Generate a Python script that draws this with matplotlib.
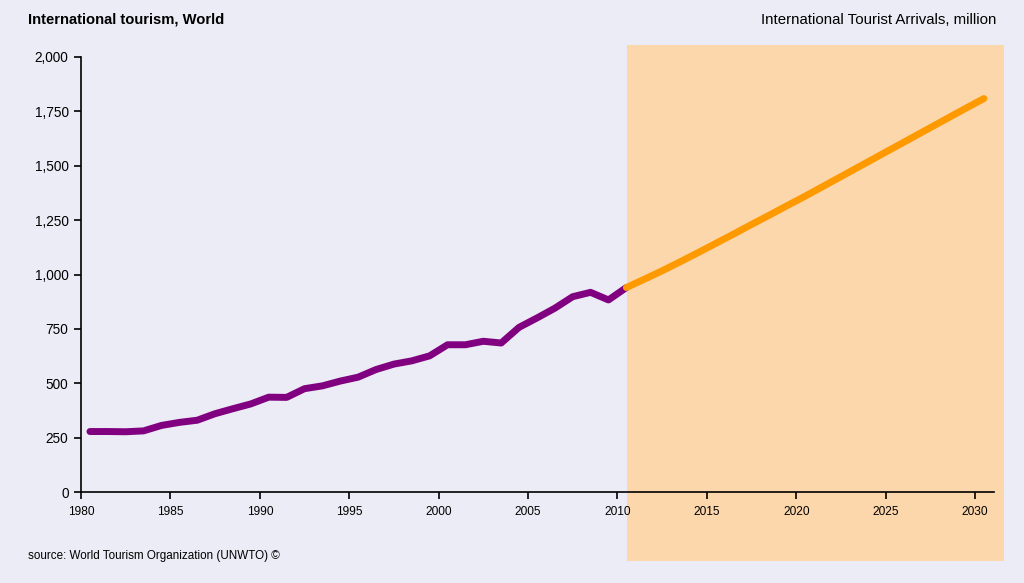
import matplotlib
matplotlib.use('Agg')
import matplotlib.pyplot as plt
from matplotlib.patches import Rectangle
from matplotlib.ticker import FuncFormatter

# historical arrivals (million)
years_hist = list(range(1980, 2011))
arrivals_hist = [278, 278, 277, 281, 306, 320, 330, 360, 383, 405,
                 436, 435, 475, 488, 510, 528, 563, 588, 603, 626,
                 677, 677, 693, 685, 757, 800, 845, 898, 918, 883, 940]

# forecast 2010-2030
years_fc = list(range(2010, 2031))
arrivals_fc = [940, 978, 1017, 1058, 1100, 1143, 1186, 1230, 1273, 1317,
               1360, 1405, 1450, 1495, 1540, 1585, 1630, 1675, 1720, 1765, 1809]

xticks = list(range(1980, 2031, 5))
yticks = list(range(0, 2001, 250))

bg = '#ECECF6'
peach = '#FDD7AC'
purple = '#800080'
orange = '#FF9900'

plt.rcParams['font.family'] = ['Liberation Sans', 'DejaVu Sans']

fig = plt.figure(figsize=(10.24, 5.83), dpi=100, facecolor=bg)
W, H = 1024, 583

# forecast area, drawn behind the axes
fig.add_artist(Rectangle((627 / W, 1 - 561 / H), (1004 - 627) / W, (561 - 45) / H,
                         transform=fig.transFigure, facecolor=peach, edgecolor='none', zorder=-5))

ax = fig.add_axes([81 / W, 1 - 492 / H, 913 / W, 435 / H])
ax.patch.set_alpha(0)

# points sit in the middle of each year (category axis)
ax.plot([y + 0.5 for y in years_hist], arrivals_hist, color=purple, lw=5,
        solid_capstyle='round', solid_joinstyle='round', zorder=3)
ax.plot([y + 0.5 for y in years_fc], arrivals_fc, color=orange, lw=5,
        solid_capstyle='round', solid_joinstyle='round', zorder=3)

ax.set_xlim(1980, 1980 + 913 / 17.88)
ax.set_ylim(0, 2000)
ax.set_xticks(xticks)
ax.set_yticks(yticks)
ax.yaxis.set_major_formatter(FuncFormatter(lambda v, p: f'{int(v):,}'))

for s in ['top', 'right']:
    ax.spines[s].set_visible(False)
for s in ['left', 'bottom']:
    ax.spines[s].set_linewidth(1.2)
ax.tick_params(axis='y', direction='out', length=5, width=1.2, labelsize=9.8, pad=4)
ax.tick_params(axis='x', direction='out', length=5, width=1.2, labelsize=8.6, pad=5)

fig.text(28 / W, 1 - 20 / H, 'International tourism, World', fontsize=10.6,
         fontweight='bold', ha='left', va='center')
fig.text(996 / W, 1 - 20 / H, 'International Tourist Arrivals, million', fontsize=10.8,
         ha='right', va='center')
fig.text(28 / W, 1 - 556 / H, 'source: World Tourism Organization (UNWTO) ©', fontsize=8.4,
         ha='left', va='center')

fig.savefig('out.png', dpi=100, facecolor=bg)
